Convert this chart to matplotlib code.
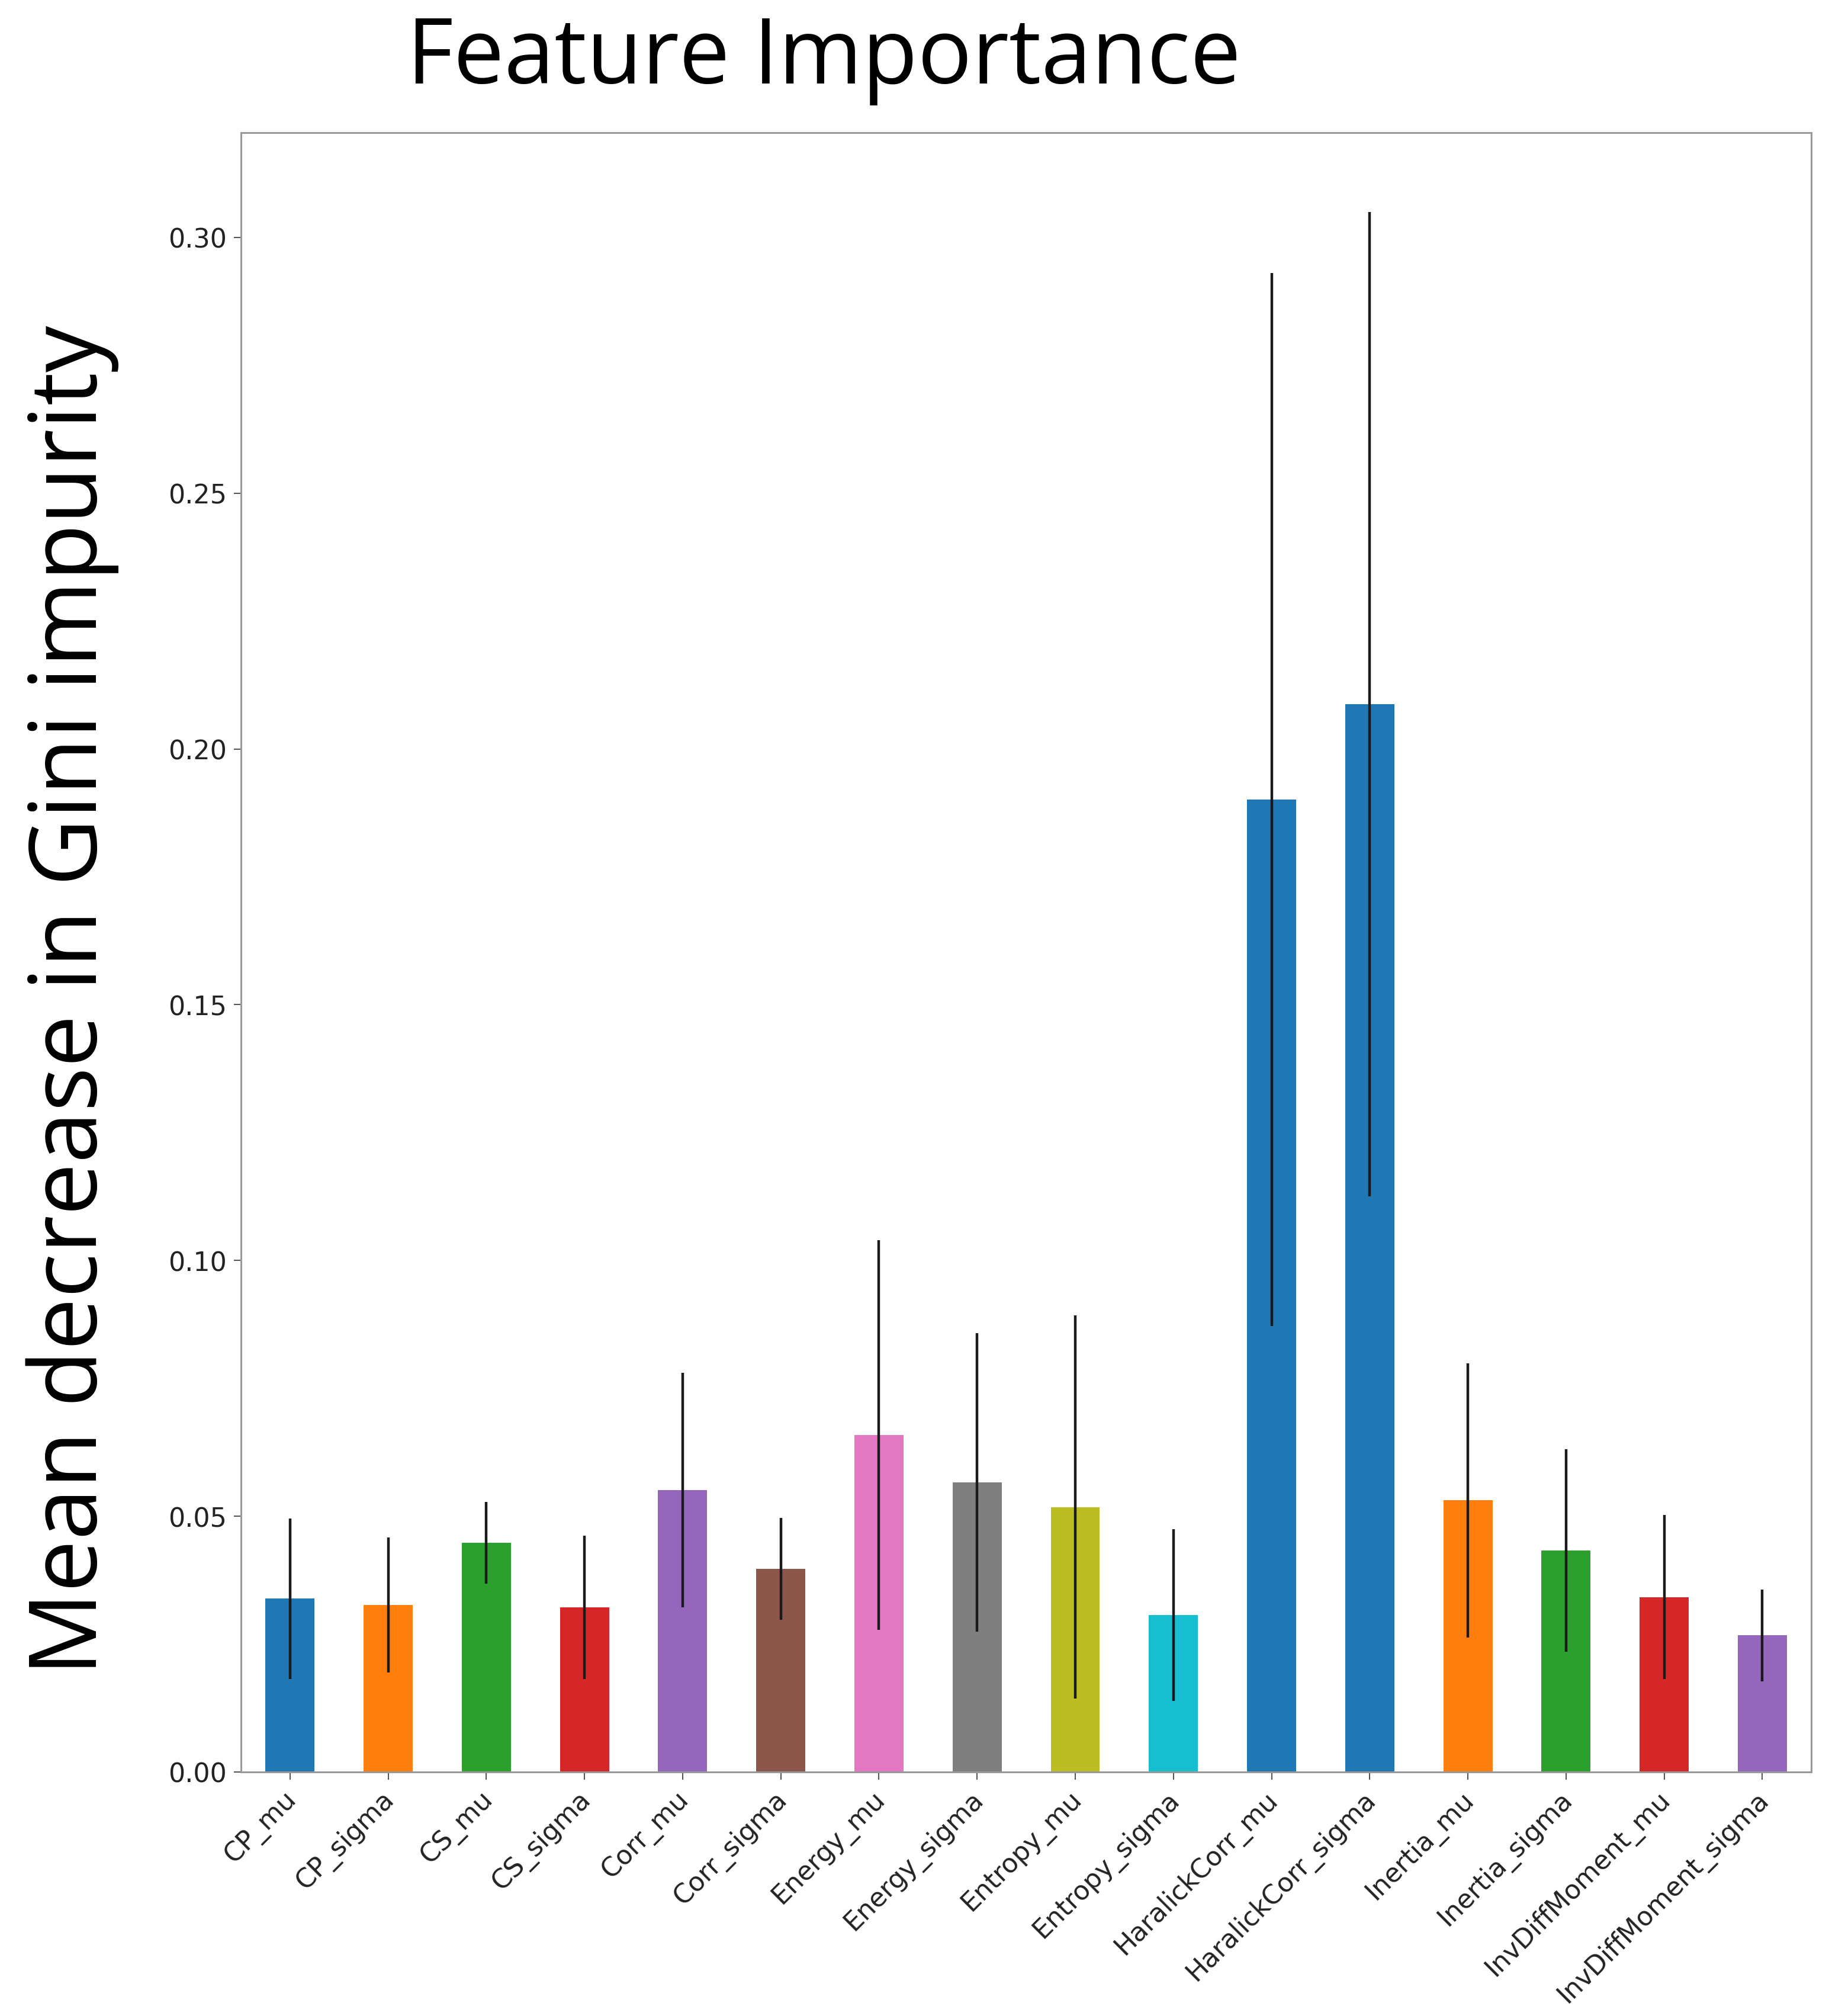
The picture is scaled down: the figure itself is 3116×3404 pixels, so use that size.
import numpy as np
import matplotlib
matplotlib.use("Agg")
import matplotlib.pyplot as plt
import matplotlib.transforms as mtransforms

# feature names and values
features = ['CP_mu', 'CP_sigma', 'CS_mu', 'CS_sigma', 'Corr_mu', 'Corr_sigma',
            'Energy_mu', 'Energy_sigma', 'Entropy_mu', 'Entropy_sigma',
            'HaralickCorr_mu', 'HaralickCorr_sigma', 'Inertia_mu', 'Inertia_sigma',
            'InvDiffMoment_mu', 'InvDiffMoment_sigma']
importance = [0.0339, 0.0327, 0.0448, 0.0322, 0.0551, 0.0397,
              0.0659, 0.0566, 0.0518, 0.0307,
              0.1901, 0.2087, 0.0531, 0.0433,
              0.0342, 0.0267]
std = [0.0157, 0.0132, 0.0080, 0.0140, 0.0229, 0.0100,
       0.0381, 0.0292, 0.0375, 0.0168,
       0.1029, 0.0962, 0.0268, 0.0198,
       0.0160, 0.0090]
colors = ['#1f77b4', '#ff7f0e', '#2ca02c', '#d62728', '#9467bd', '#8c564b',
          '#e377c2', '#7f7f7f', '#bcbd22', '#17becf',
          '#1f77b4', '#1f77b4', '#ff7f0e', '#2ca02c', '#d62728', '#9467bd']

fig = plt.figure(figsize=(31.16, 34.05), dpi=100)
ax = fig.add_axes([0.1306, 0.1210, 0.8512, 0.8130])

x = np.arange(len(features))
ax.bar(x, importance, width=0.5, color=colors, yerr=std,
       error_kw=dict(ecolor='#1a1a1a', elinewidth=3.2, capsize=0))

ax.set_xlim(-0.5, len(features) - 0.5)
ax.set_ylim(0, 0.3205)
ax.set_yticks([0.00, 0.05, 0.10, 0.15, 0.20, 0.25, 0.30])
ax.set_yticklabels(['0.00', '0.05', '0.10', '0.15', '0.20', '0.25', '0.30'])
ax.set_xticks(x)
ax.set_xticklabels(features, rotation=45, ha='right')

ax.tick_params(axis='both', labelsize=32, colors='#555555', labelcolor='#222222',
               length=9, width=1.5, pad=8)
for s in ax.spines.values():
    s.set_color('#999999')
    s.set_linewidth(2.2)

# nudge rotated labels a bit to the right, like the reference
shift = mtransforms.ScaledTranslation(0.2, 0, fig.dpi_scale_trans)
for lab in ax.get_xticklabels():
    lab.set_transform(lab.get_transform() + shift)

# big title and y label drawn on the figure
fig.text(0.4465, 0.9585, 'Feature Importance', family='Open Sans',
         fontsize=110, ha='center', va='baseline')
fig.text(0.039, 0.504, 'Mean decrease in Gini impurity', family='Open Sans',
         fontsize=113, rotation=90, ha='center', va='center')

plt.savefig('out.png', dpi=100)
